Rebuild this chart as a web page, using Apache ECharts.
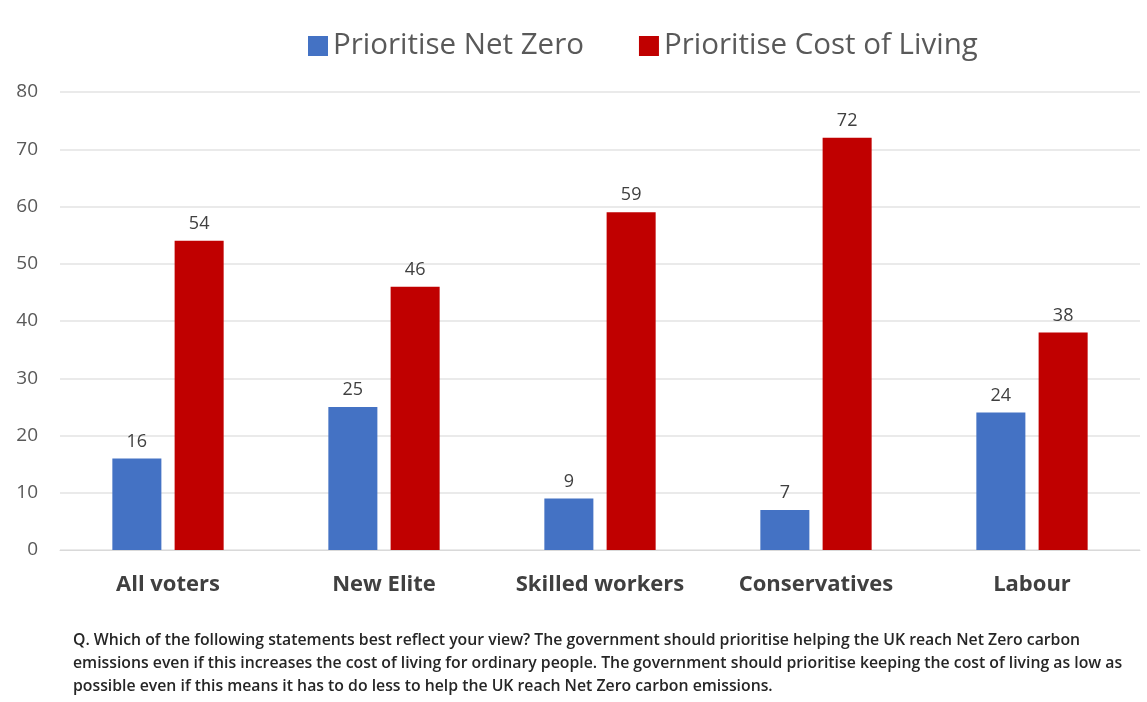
<!DOCTYPE html>
<html><head><meta charset="utf-8">
<script src="https://cdn.jsdelivr.net/npm/echarts@6/dist/echarts.min.js"></script>
<style>html,body{margin:0;padding:0;background:#fff}#c{width:1147px;height:702px}</style>
</head><body><div id="c"></div>
<script>
const categories = ['All voters', 'New Elite', 'Skilled workers', 'Conservatives', 'Labour'];
const netZero = [16, 25, 9, 7, 24];
const costOfLiving = [54, 46, 59, 72, 38];
const seriesNames = ['Prioritise Net Zero', 'Prioritise Cost of Living'];
const footnoteLines = [
  'Q. Which of the following statements best reflect your view? The government should prioritise helping the UK reach Net Zero carbon',
  'emissions even if this increases the cost of living for ordinary people. The government should prioritise keeping the cost of living as low as',
  'possible even if this means it has to do less to help the UK reach Net Zero carbon emissions.'
];
const chart = echarts.init(document.getElementById('c'));
const font = 'Open Sans';
chart.setOption({
  animation: false,
  backgroundColor: '#fff',
  title: {
    text: footnoteLines.join('\n'),
    left: 68, top: 624,
    textStyle: { fontFamily: font, fontSize: 15.8, fontWeight: 600, color: '#262626', lineHeight: 23 }
  },
  legend: {
    top: 26, left: 303,
    itemWidth: 20, itemHeight: 20, itemGap: 55,
    icon: 'rect',
    textStyle: { fontFamily: font, fontSize: 29.5, color: '#595959' },
    data: seriesNames
  },
  grid: { left: 60, right: 7, top: 92, bottom: 152 },
  xAxis: {
    type: 'category', data: categories,
    axisLine: { lineStyle: { color: '#d9d9d9' } },
    axisTick: { show: false },
    axisLabel: { interval: 0, fontFamily: font, fontSize: 22, fontWeight: 'bold', color: '#404040', margin: 24 }
  },
  yAxis: {
    type: 'value', min: 0, max: 80, interval: 10,
    axisLine: { show: false }, axisTick: { show: false },
    splitLine: { lineStyle: { color: '#e3e3e3', width: 1.5 } },
    axisLabel: { fontFamily: font, fontSize: 19, color: '#595959', margin: 22 }
  },
  series: [
    { name: seriesNames[0], type: 'bar', data: netZero, barWidth: '22.7%', barGap: '27%',
      itemStyle: { color: '#4472C4' },
      label: { show: true, position: 'top', distance: 8, fontFamily: font, fontSize: 18, color: '#404040' } },
    { name: seriesNames[1], type: 'bar', data: costOfLiving, barWidth: '22.7%',
      itemStyle: { color: '#C00000' },
      label: { show: true, position: 'top', distance: 8, fontFamily: font, fontSize: 18, color: '#404040' } }
  ]
});
</script></body></html>
